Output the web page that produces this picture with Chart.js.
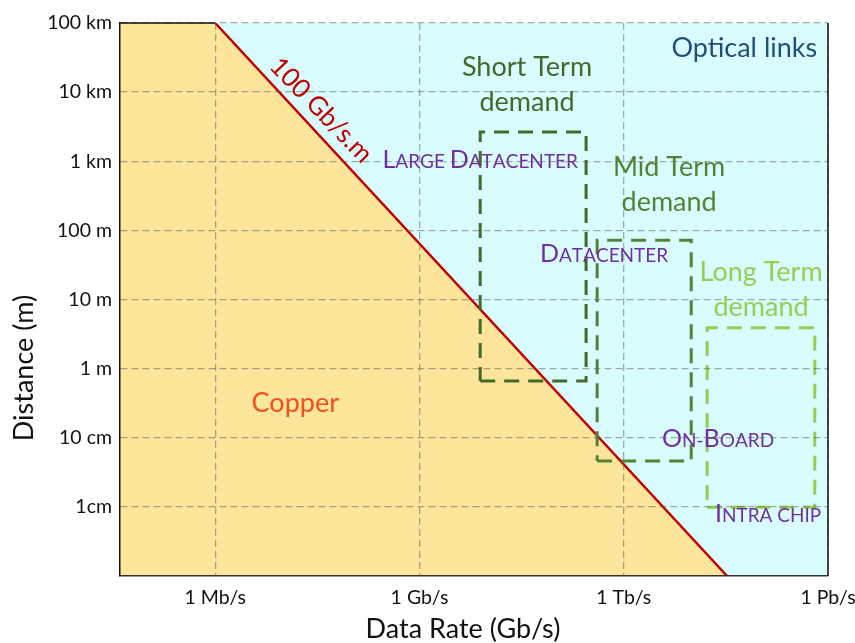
<!DOCTYPE html>
<html>
<head>
<meta charset="utf-8">
<script src="https://cdn.jsdelivr.net/npm/chart.js@4.4.1/dist/chart.umd.min.js"></script>
<style>
  body{margin:0;background:#fff}
</style>
</head>
<body>
<canvas id="chart" width="855" height="643"></canvas>
<script>
// axis ranges, rate in Gb/s and distance in metres
const rateRange = [4e-5, 1e6]
const distRange = [1e-3, 1e5]

const rateTicks = [1e-3, 1, 1e3, 1e6]
const rateLabels = ['1 Mb/s', '1 Gb/s', '1 Tb/s', '1 Pb/s']
const distTicks = [1e-2, 1e-1, 1, 10, 100, 1e3, 1e4, 1e5]
const distLabels = ['1cm', '10 cm', '1 m', '10 m', '100 m', '1 km', '10 km', '100 km']

// the 100 Gb/s.m line as it is drawn
const limitRate = [1e-3, 3.3e4]
const limitDist = [1e5, 1e-3]

// demand boxes
const shortRate = [7.8, 280]
const shortDist = [0.66, 2650]
const midRate = [407, 9800]
const midDist = [0.046, 72]
const longRate = [1.68e4, 6.4e5]
const longDist = [0.0099, 3.9]

const FONT = 'Lato, "Open Sans", sans-serif'

const box = (r, d) => [
  {x: r[0], y: d[0]}, {x: r[1], y: d[0]}, {x: r[1], y: d[1]},
  {x: r[0], y: d[1]}, {x: r[0], y: d[0]}
]

const notes = [
  {text: ['Optical links'], x: 5.9e4, y: 4.35e4, color: '#1f4e79'},
  {text: ['Short Term', 'demand'], x: 38, y: 1.29e4, color: '#42692a'},
  {text: ['Mid Term', 'demand'], x: 4640, y: 460, color: '#548235'},
  {text: ['Long Term', 'demand'], x: 1.04e5, y: 13.7, color: '#92d050'},
  {text: ['Copper'], x: 0.015, y: 0.317, color: '#f0501e'}
]
const capsNotes = [
  {text: 'Large Datacenter', x: 7.8, y: 1080},
  {text: 'Datacenter', x: 515, y: 47},
  {text: 'On-Board', x: 2.43e4, y: 0.0986},
  {text: 'Intra chip', x: 1.32e5, y: 0.0081}
]

function drawCaps(ctx, text, cx, cy, big, small){
  const parts = [...text].map(ch => ch !== ch.toLowerCase() ? {s: ch, f: big} : {s: ch.toUpperCase(), f: small})
  let w = 0
  for(const p of parts){ ctx.font = p.f + 'px ' + FONT; p.w = ctx.measureText(p.s).width; w += p.w }
  let x = cx - w/2
  ctx.textAlign = 'left'
  ctx.textBaseline = 'alphabetic'
  for(const p of parts){
    ctx.font = p.f + 'px ' + FONT
    ctx.fillText(p.s, x, cy + big*0.36)
    x += p.w
  }
}

const textPlugin = {
  id: 'texts',
  afterDraw(chart){
    const ctx = chart.ctx
    const xs = chart.scales.x, ys = chart.scales.y
    const area = chart.chartArea
    ctx.save()
    // frame: right side and the copper part of the top
    ctx.strokeStyle = '#111'
    ctx.lineWidth = 1.5
    ctx.beginPath()
    ctx.moveTo(area.right, area.top)
    ctx.lineTo(area.right, area.bottom)
    ctx.moveTo(area.left, area.top)
    ctx.lineTo(xs.getPixelForValue(limitRate[0]), area.top)
    ctx.stroke()

    ctx.textAlign = 'center'
    ctx.textBaseline = 'middle'
    ctx.font = '27px ' + FONT
    for(const n of notes){
      const px = xs.getPixelForValue(n.x), py = ys.getPixelForValue(n.y)
      ctx.fillStyle = n.color
      const lh = 35
      n.text.forEach((t, i) => ctx.fillText(t, px, py + (i - (n.text.length-1)/2)*lh))
    }
    ctx.fillStyle = '#7030a0'
    for(const n of capsNotes){
      drawCaps(ctx, n.text, xs.getPixelForValue(n.x), ys.getPixelForValue(n.y), 25, 19)
    }

    // label along the line
    ctx.save()
    ctx.translate(xs.getPixelForValue(0.036), ys.getPixelForValue(5500))
    ctx.rotate(46*Math.PI/180)
    ctx.fillStyle = '#c00000'
    ctx.font = '26px ' + FONT
    ctx.textAlign = 'center'
    ctx.textBaseline = 'middle'
    ctx.fillText('100 Gb/s.m', 0, 0)
    ctx.restore()

    // axis titles
    ctx.fillStyle = '#111'
    ctx.font = '27px ' + FONT
    ctx.textAlign = 'center'
    ctx.textBaseline = 'middle'
    ctx.fillText('Data Rate (Gb/s)', 463, 629)
    ctx.save()
    ctx.translate(24, 368)
    ctx.rotate(-Math.PI/2)
    ctx.fillText('Distance (m)', 0, 0)
    ctx.restore()
    ctx.restore()
  }
}

new Chart('chart', {
  type: 'line',
  data: {
    datasets: [{
      // optical side
      data: [{x: rateRange[0], y: distRange[1]}, {x: rateRange[1], y: distRange[1]}],
      fill: 'start',
      backgroundColor: '#d9fdff',
      borderWidth: 0,
      pointRadius: 0,
      order: 10
    }, {
      // copper side
      data: [{x: rateRange[0], y: limitDist[0]}, {x: limitRate[0], y: limitDist[0]}, {x: limitRate[1], y: limitDist[1]}],
      fill: 'start',
      backgroundColor: '#fde59b',
      borderWidth: 0,
      pointRadius: 0,
      order: 9
    }, {
      data: limitRate.map((r, i) => ({x: r, y: limitDist[i]})),
      borderColor: '#c00000',
      borderWidth: 2.5,
      pointRadius: 0,
      fill: false,
      order: 5
    }, {
      data: box(shortRate, shortDist),
      borderColor: '#426a28',
      borderWidth: 3,
      borderDash: [15, 9],
      pointRadius: 0,
      fill: false,
      order: 3
    }, {
      data: box(midRate, midDist),
      borderColor: '#548235',
      borderWidth: 3,
      borderDash: [15, 9],
      pointRadius: 0,
      fill: false,
      order: 2
    }, {
      data: box(longRate, longDist),
      borderColor: '#92d050',
      borderWidth: 3,
      borderDash: [15, 9],
      pointRadius: 0,
      fill: false,
      order: 1
    }]
  },
  options: {
    responsive: false,
    animation: false,
    layout: {padding: {top: 23, right: 27, left: 0, bottom: 0}},
    plugins: {legend: {display: false}, tooltip: {enabled: false}},
    scales: {
      x: {
        type: 'logarithmic',
        min: rateRange[0],
        max: rateRange[1],
        afterBuildTicks: s => { s.ticks = rateTicks.map(v => ({value: v})) },
        afterFit: s => { s.height = 67; s.paddingLeft = 0; s.paddingRight = 0 },
        grid: {color: 'rgba(90,90,90,0.5)', lineWidth: 1.3, drawTicks: false, z: 1},
        border: {display: true, color: '#333', width: 1.5, dash: [7, 4], z: 1},
        ticks: {
          autoSkip: false, maxRotation: 0, padding: 10,
          color: '#111', font: {family: FONT, size: 19.5},
          callback: v => rateLabels[rateTicks.indexOf(v)]
        }
      },
      y: {
        type: 'logarithmic',
        min: distRange[0],
        max: distRange[1],
        afterBuildTicks: s => { s.ticks = distTicks.map(v => ({value: v})) },
        afterFit: s => { s.width = 120; s.paddingTop = 0; s.paddingBottom = 0 },
        grid: {color: 'rgba(90,90,90,0.5)', lineWidth: 1.3, drawTicks: false, z: 1},
        border: {display: true, color: '#111', width: 1.5, dash: [7, 4], z: 1},
        ticks: {
          autoSkip: false, padding: 8,
          color: '#111', font: {family: FONT, size: 19.5},
          callback: v => distLabels[distTicks.indexOf(v)]
        }
      }
    }
  },
  plugins: [textPlugin]
})
</script>
</body>
</html>
